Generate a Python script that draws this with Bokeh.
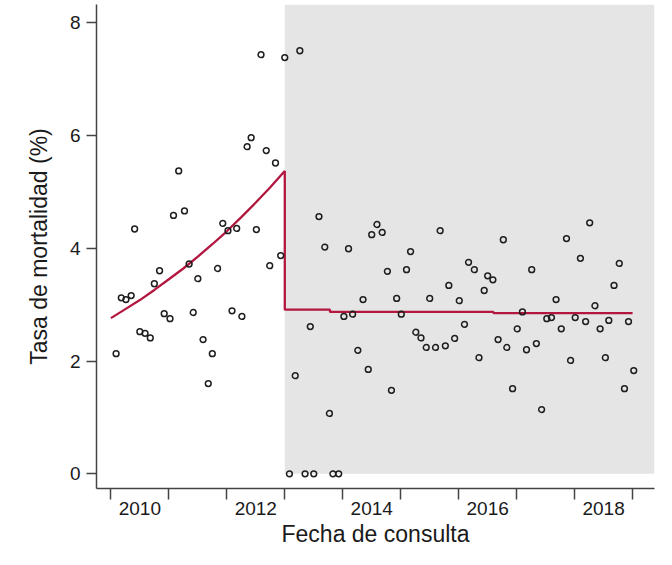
from bokeh.plotting import figure
from bokeh.models import FixedTicker, BoxAnnotation, Range1d
from bokeh.embed import file_html
from bokeh.resources import INLINE

# ---- data ----
fecha = [
    2010.09, 2010.18, 2010.26, 2010.35, 2010.41, 2010.50, 2010.59, 2010.68, 2010.75, 2010.84, 2010.92,
    2011.02, 2011.08, 2011.17, 2011.27, 2011.35, 2011.42, 2011.50, 2011.59, 2011.68, 2011.75, 2011.84, 2011.93,
    2012.02, 2012.09, 2012.17, 2012.26, 2012.35, 2012.42, 2012.51, 2012.59, 2012.68, 2012.74, 2012.84, 2012.93,
    2013.00, 2013.08, 2013.18, 2013.26, 2013.35, 2013.44, 2013.50, 2013.59, 2013.69, 2013.77, 2013.83, 2013.93,
    2014.02, 2014.10, 2014.17, 2014.26, 2014.35, 2014.44, 2014.50, 2014.59, 2014.68, 2014.77, 2014.84, 2014.93,
    2015.01, 2015.10, 2015.17, 2015.26, 2015.35, 2015.44, 2015.50, 2015.60, 2015.68, 2015.77, 2015.83, 2015.93,
    2016.01, 2016.10, 2016.17, 2016.27, 2016.35, 2016.44, 2016.50, 2016.59, 2016.68, 2016.77, 2016.83, 2016.93,
    2017.01, 2017.10, 2017.17, 2017.26, 2017.34, 2017.43, 2017.52, 2017.60, 2017.68, 2017.77, 2017.86, 2017.93,
    2018.01, 2018.10, 2018.19, 2018.26, 2018.35, 2018.44, 2018.53, 2018.59, 2018.68, 2018.77, 2018.86, 2018.93,
    2019.02,
]
tasa = [
    2.13, 3.12, 3.09, 3.16, 4.34, 2.52, 2.49, 2.41, 3.37, 3.60, 2.84,
    2.75, 4.58, 5.37, 4.66, 3.72, 2.86, 3.46, 2.38, 1.60, 2.13, 3.64, 4.44,
    4.31, 2.89, 4.35, 2.79, 5.80, 5.96, 4.33, 7.43, 5.73, 3.69, 5.51, 3.87,
    7.38, 0.00, 1.74, 7.50, 0.00, 2.61, 0.00, 4.56, 4.02, 1.07, 0.00, 0.00,
    2.79, 3.99, 2.83, 2.19, 3.09, 1.85, 4.24, 4.42, 4.28, 3.59, 1.48, 3.11,
    2.83, 3.62, 3.94, 2.51, 2.41, 2.24, 3.11, 2.24, 4.31, 2.27, 3.34, 2.40,
    3.07, 2.65, 3.75, 3.62, 2.06, 3.25, 3.51, 3.44, 2.38, 4.15, 2.24, 1.51,
    2.57, 2.87, 2.20, 3.62, 2.31, 1.14, 2.75, 2.77, 3.09, 2.57, 4.17, 2.01,
    2.77, 3.82, 2.70, 4.45, 2.98, 2.57, 2.06, 2.72, 3.34, 3.73, 1.51, 2.70,
    1.83,
]

# fitted segmented trend
trend_x = [2010.0, 2010.25, 2010.5, 2010.75, 2011.0, 2011.25, 2011.5, 2011.75,
           2012.0, 2012.25, 2012.5, 2012.75, 2013.0,
           2013.0, 2013.78, 2013.78, 2016.6, 2016.6, 2019.0]
trend_y = [2.76, 2.92, 3.08, 3.26, 3.45, 3.64, 3.85, 4.07,
           4.30, 4.55, 4.81, 5.08, 5.37,
           2.91, 2.91, 2.87, 2.87, 2.85, 2.85]

intervention_start = 2013.0
year_bounds = [2010, 2011, 2012, 2013, 2014, 2015, 2016, 2017, 2018, 2019]
label_pos = [2010.5, 2012.5, 2014.5, 2016.5, 2018.5]
label_txt = ["2010", "2012", "2014", "2016", "2018"]
y_ticks = [0, 2, 4, 6, 8]

FONT = "Liberation Sans"

p = figure(width=656, height=549, output_backend="svg", toolbar_location=None,
           x_range=Range1d(2009.752, 2019.378), y_range=Range1d(-0.26, 8.32),
           min_border_left=96, min_border_right=2, min_border_top=4, min_border_bottom=0)
p.outline_line_color = None
p.xgrid.visible = False
p.ygrid.visible = False
p.background_fill_color = "white"

# shaded post-intervention period
p.add_layout(BoxAnnotation(left=intervention_start, bottom=0, fill_color="#e5e5e5",
                           fill_alpha=1.0, line_alpha=0, level="underlay"))

p.line(trend_x, trend_y, line_color="#b3163f", line_width=2.3)
p.scatter(fecha, tasa, marker="circle", size=5.8, fill_color=None,
          line_color="#1e1e1e", line_width=1.5)

# x axis
xa = p.xaxis[0]
xa.ticker = FixedTicker(ticks=label_pos, minor_ticks=year_bounds)
xa.major_label_overrides = {lp: t for lp, t in zip(label_pos, label_txt)}
xa.major_tick_out = 0
xa.major_tick_in = 0
xa.minor_tick_out = 11
xa.minor_tick_in = 0
xa.minor_tick_line_color = "#444444"
xa.minor_tick_line_width = 1.5
xa.major_label_standoff = 2
xa.axis_label = "Fecha de consulta"
xa.axis_label_standoff = 3

# y axis
ya = p.yaxis[0]
ya.ticker = FixedTicker(ticks=y_ticks, minor_ticks=[])
ya.major_tick_out = 10
ya.major_tick_in = 0
ya.major_tick_line_color = "#444444"
ya.major_tick_line_width = 1.5
ya.major_label_standoff = 6
ya.axis_label = "Tasa de mortalidad (%)"
ya.axis_label_standoff = 15

for ax in (xa, ya):
    ax.axis_line_color = "#444444"
    ax.axis_line_width = 1.5
    ax.major_label_text_font = FONT
    ax.major_label_text_font_size = "19px"
    ax.major_label_text_color = "#1a1a1a"
    ax.axis_label_text_font = FONT
    ax.axis_label_text_font_size = "23px"
    ax.axis_label_text_font_style = "normal"
    ax.axis_label_text_color = "#1a1a1a"

open("out.html", "w").write(file_html(p, INLINE))
